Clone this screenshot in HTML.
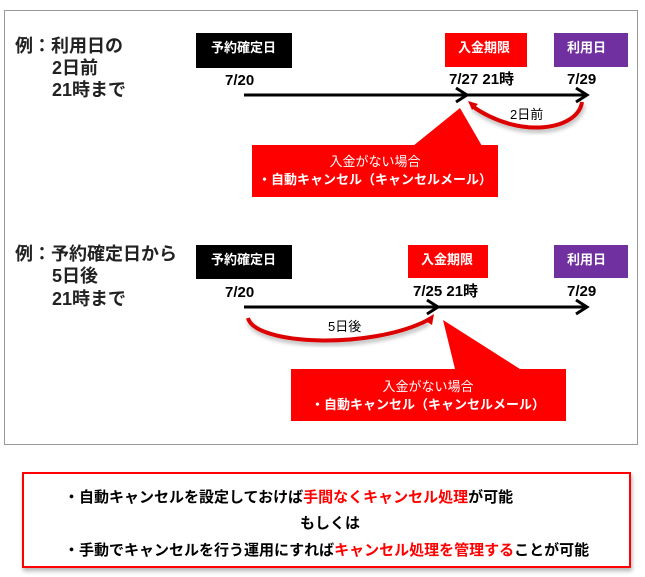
<!DOCTYPE html>
<html><head><meta charset="utf-8"><style>
body{margin:0;background:#fff;width:645px;height:577px;overflow:hidden}
svg{display:block}
text{font-family:"Liberation Sans","Noto Sans CJK JP",sans-serif}
</style></head><body>
<svg width="645" height="577" viewBox="0 0 645 577">
<defs>
<filter id="sh" x="-10%" y="-10%" width="130%" height="140%"><feDropShadow dx="1" dy="3" stdDeviation="2" flood-color="#000" flood-opacity="0.3"/></filter>
</defs>
<rect x="4.5" y="10.5" width="633" height="434" fill="#fff" stroke="#999" stroke-width="1"/>
<g font-weight="bold" font-size="18" fill="#222">
<text x="15" y="52">例：利用日の</text>
<text x="52" y="74">2日前</text>
<text x="52" y="96">21時まで</text>
<text x="15" y="260">例：予約確定日から</text>
<text x="52" y="282">5日後</text>
<text x="52" y="305">21時まで</text>
</g>
<!-- section 1 -->
<rect x="196" y="33" width="96" height="35" fill="#000"/>
<text x="211" y="52" fill="#fff" font-size="13" font-weight="bold">予約確定日</text>
<rect x="445" y="33" width="82" height="34" fill="#f00"/>
<text x="458" y="52" fill="#fff" font-size="13" font-weight="bold">入金期限</text>
<rect x="554" y="33" width="74" height="34" fill="#7030a0"/>
<text x="567" y="52" fill="#fff" font-size="13" font-weight="bold">利用日</text>
<g font-weight="bold" font-size="15" fill="#000">
<text x="225" y="85">7/20</text>
<text x="449" y="84">7/27 21時</text>
<text x="567" y="84">7/29</text>
</g>
<g stroke="#000" stroke-width="3" fill="none">
<line x1="244" y1="95" x2="585" y2="95"/>
<polyline points="456,88 467,95 456,102"/>
<polyline points="576,88 587,95 576,102"/>
</g>
<path d="M582,102 C578,130 520,140 472,106" fill="none" stroke="#d00" stroke-width="4" filter="url(#sh)"/>
<polygon points="468,101 478,104 472,110" fill="#d00"/>
<text x="510" y="119" font-size="13" fill="#000">2日前</text>
<polygon points="413,146 460,108 482,146" fill="#f00"/>
<rect x="252" y="145" width="246" height="52" fill="#f00"/>
<text x="375" y="166" fill="#fff" font-size="13" text-anchor="middle">入金がない場合</text>
<text x="375" y="184" fill="#fff" font-size="13" font-weight="bold" text-anchor="middle">・自動キャンセル（キャンセルメール）</text>
<!-- section 2 -->
<rect x="196" y="245" width="96" height="34" fill="#000"/>
<text x="211" y="264" fill="#fff" font-size="13" font-weight="bold">予約確定日</text>
<rect x="408" y="245" width="80" height="33" fill="#f00"/>
<text x="421" y="264" fill="#fff" font-size="13" font-weight="bold">入金期限</text>
<rect x="554" y="245" width="74" height="33" fill="#7030a0"/>
<text x="567" y="264" fill="#fff" font-size="13" font-weight="bold">利用日</text>
<g font-weight="bold" font-size="15" fill="#000">
<text x="225" y="297">7/20</text>
<text x="413" y="296">7/25 21時</text>
<text x="567" y="296">7/29</text>
</g>
<g stroke="#000" stroke-width="3" fill="none">
<line x1="244" y1="307" x2="585" y2="307"/>
<polyline points="427,300 438,307 427,314"/>
<polyline points="576,300 587,307 576,314"/>
</g>
<path d="M248,318 C255,345 370,350 428,320" fill="none" stroke="#d00" stroke-width="4" filter="url(#sh)"/>
<polygon points="434,314 432,325 424,320" fill="#d00"/>
<text x="328" y="331" font-size="13" fill="#000">5日後</text>
<polygon points="443,320 520,369 455,369" fill="#f00"/>
<rect x="291" y="369" width="275" height="52" fill="#f00"/>
<text x="428" y="391" fill="#fff" font-size="13" text-anchor="middle">入金がない場合</text>
<text x="428" y="409" fill="#fff" font-size="13" font-weight="bold" text-anchor="middle">・自動キャンセル（キャンセルメール）</text>
<!-- bottom box -->
<rect x="23" y="473" width="607" height="94" fill="#fff" stroke="#f00" stroke-width="2" filter="url(#sh)"/>
<g font-weight="bold" font-size="15" fill="#000">
<text x="64" y="502">・自動キャンセルを設定しておけば<tspan fill="#f00">手間なくキャンセル処理</tspan>が可能</text>
<text x="330" y="528" text-anchor="middle">もしくは</text>
<text x="64" y="555">・手動でキャンセルを行う運用にすれば<tspan fill="#f00">キャンセル処理を管理する</tspan>ことが可能</text>
</g>
</svg>
</body></html>
